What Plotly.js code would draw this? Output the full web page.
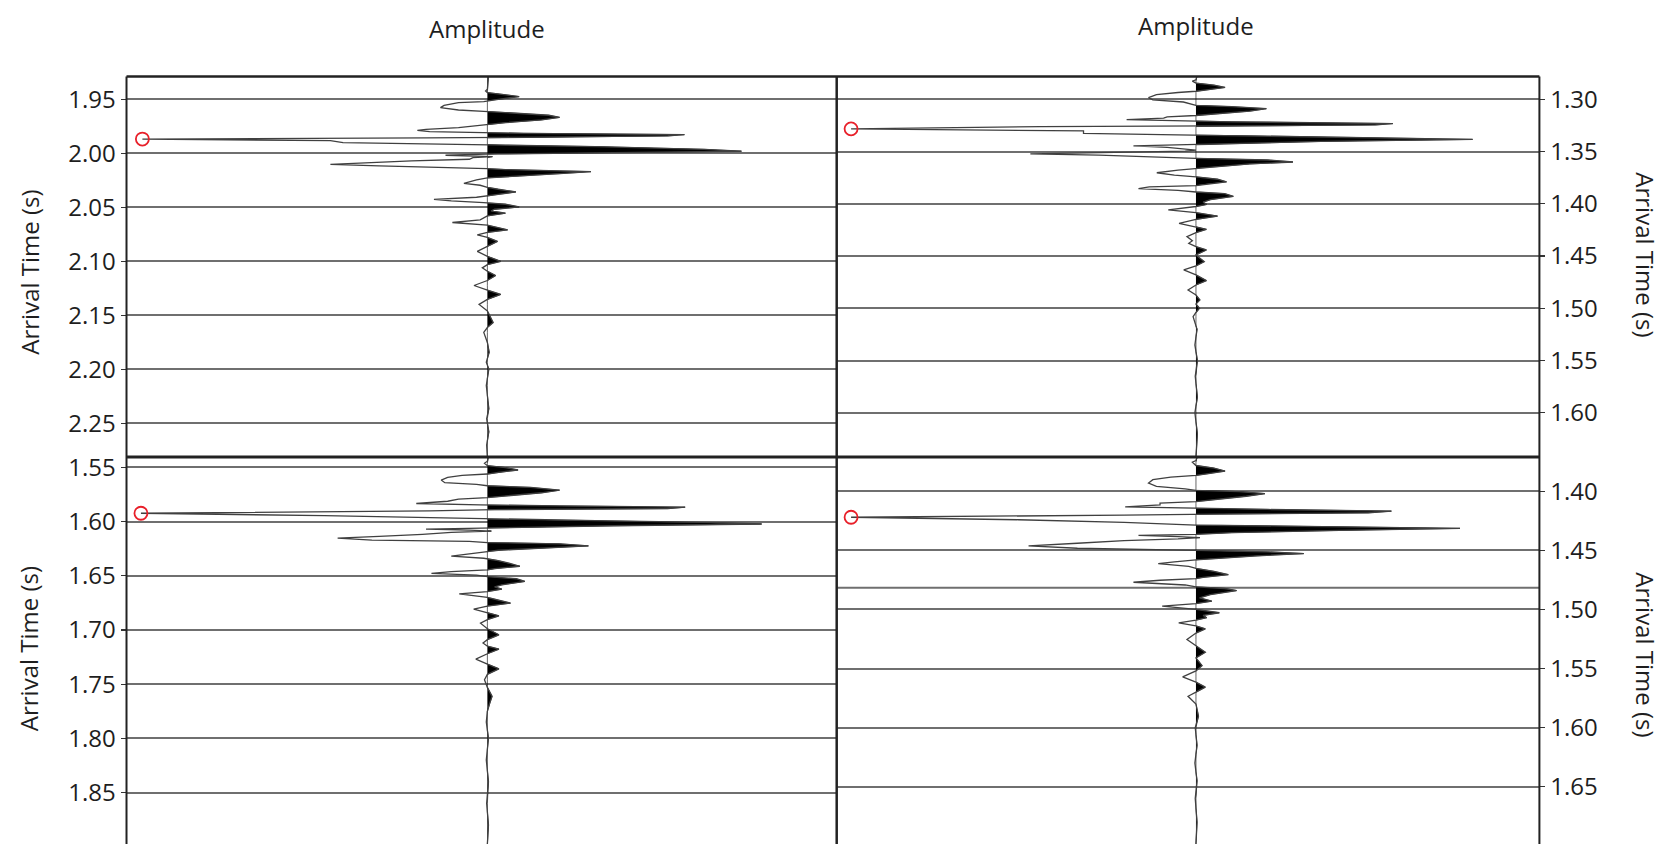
<!DOCTYPE html>
<html>
<head>
<meta charset="utf-8">
<script src="https://cdn.plot.ly/plotly-3.0.1.min.js"></script>
<style>
html,body{margin:0;padding:0;background:#fff;}
#chart{width:1667px;height:844px;}
</style>
</head>
<body>
<div id="chart"></div>
<script>
// ---------- Data (time in s, normalised amplitude) ----------
const tlTime = [1.9280,1.9407,1.9423,1.9438,1.9454,1.9475,1.9500,1.9512,1.9522,1.9531,1.9556,1.9577,1.9599,1.9611,1.9623,1.9648,1.9667,1.9691,1.9716,1.9735,1.9747,1.9762,1.9778,1.9787,1.9799,1.9809,1.9815,1.9827,1.9839,1.9852,1.9858,1.9868,1.9883,1.9901,1.9917,1.9925,1.9938,1.9963,1.9981,1.9994,2.0006,2.0018,2.0031,2.0040,2.0055,2.0071,2.0086,2.0102,2.0117,2.0133,2.0142,2.0151,2.0170,2.0188,2.0210,2.0228,2.0247,2.0265,2.0278,2.0296,2.0315,2.0333,2.0358,2.0380,2.0395,2.0407,2.0426,2.0441,2.0457,2.0472,2.0497,2.0518,2.0534,2.0555,2.0580,2.0617,2.0641,2.0666,2.0709,2.0733,2.0755,2.0779,2.0816,2.0862,2.0908,2.0954,2.1000,2.1031,2.1061,2.1092,2.1132,2.1178,2.1224,2.1267,2.1307,2.1353,2.1399,2.1460,2.1567,2.1613,2.1659,2.1751,2.1843,2.1935,2.1997,2.2150,2.2365,2.2457,2.2579,2.2702,2.2815];
const tlAmp  = [0.003,0.0,-0.005,0.0,0.04,0.088,0.03,0.0,-0.01,-0.08,-0.12,-0.13,-0.08,-0.01,0.05,0.17,0.20,0.15,0.05,0.0,-0.03,-0.08,-0.17,-0.194,-0.16,-0.03,0.10,0.546,0.50,0.05,-0.17,-0.956,-0.435,-0.40,-0.02,0.05,0.30,0.60,0.704,0.30,0.02,-0.116,0.014,-0.04,-0.05,-0.21,-0.31,-0.435,-0.30,-0.05,0.0,0.05,0.287,0.20,0.08,0.0,-0.03,-0.055,-0.065,-0.02,0.0,0.03,0.079,0.03,0.0,-0.03,-0.148,-0.10,-0.01,0.05,0.088,0.02,0.01,0.05,0.0,-0.02,-0.097,0.0,0.056,0.0,-0.028,0.0,0.028,0.0,-0.028,0.0,0.037,0.0,-0.014,0.0,0.023,0.0,-0.037,0.0,0.037,0.0,-0.023,0.0,0.016,0.0,-0.01,0.0,0.005,-0.003,0.004,-0.003,0.004,-0.002,0.004,-0.002,0.0];

const trTime = [1.2775,1.2813,1.2826,1.2845,1.2865,1.2887,1.2910,1.2923,1.2935,1.2955,1.2984,1.3006,1.3026,1.3048,1.3058,1.3071,1.3090,1.3113,1.3135,1.3155,1.3168,1.3181,1.3194,1.3206,1.3216,1.3232,1.3245,1.3255,1.3261,1.3283,1.3303,1.3326,1.3342,1.3352,1.3371,1.3384,1.3403,1.3426,1.3436,1.3445,1.3461,1.3474,1.3487,1.3497,1.3510,1.3523,1.3535,1.3552,1.3565,1.3581,1.3600,1.3619,1.3645,1.3661,1.3677,1.3703,1.3726,1.3742,1.3765,1.3790,1.3813,1.3826,1.3839,1.3855,1.3871,1.3887,1.3903,1.3929,1.3961,1.3984,1.4006,1.4026,1.4058,1.4085,1.4118,1.4150,1.4187,1.4219,1.4244,1.4276,1.4314,1.4353,1.4378,1.4410,1.4442,1.4490,1.4554,1.4595,1.4633,1.4681,1.4735,1.4777,1.4825,1.4873,1.4920,1.4959,1.5000,1.5040,1.5080,1.5200,1.5350,1.5500,1.5650,1.5850,1.6000,1.6200,1.6425];
const trAmp  = [0.003,0.0,-0.01,0.0,0.05,0.081,0.03,0.0,-0.05,-0.11,-0.132,-0.12,-0.035,-0.01,0.0,0.10,0.196,0.15,0.08,0.0,-0.08,-0.09,-0.193,-0.02,0.10,0.548,0.50,0.05,-0.433,-0.96,-0.313,-0.313,-0.02,0.20,0.60,0.77,0.35,0.10,0.0,-0.174,-0.08,-0.03,0.0,-0.03,-0.27,-0.461,-0.27,-0.12,0.0,0.20,0.27,0.15,0.05,0.0,-0.05,-0.109,-0.06,0.0,0.06,0.085,0.02,0.0,-0.13,-0.16,-0.05,0.0,0.08,0.104,0.04,0.02,0.03,0.0,-0.077,0.0,0.06,0.0,-0.047,0.0,0.029,0.0,-0.025,-0.01,-0.02,0.0,0.029,0.0,0.023,0.0,-0.034,0.0,0.029,0.0,-0.022,0.0,0.011,0.0,0.01,0.0,-0.008,0.003,-0.003,0.004,-0.002,0.004,-0.003,0.004,0.0];

const blTime = [1.5401,1.5444,1.5463,1.5485,1.5503,1.5525,1.5546,1.5562,1.5574,1.5593,1.5618,1.5642,1.5658,1.5670,1.5686,1.5711,1.5735,1.5760,1.5779,1.5794,1.5813,1.5834,1.5847,1.5856,1.5868,1.5881,1.5890,1.5902,1.5924,1.5946,1.5971,1.5980,1.5992,1.6011,1.6023,1.6039,1.6054,1.6060,1.6070,1.6079,1.6088,1.6101,1.6119,1.6138,1.6153,1.6172,1.6184,1.6194,1.6206,1.6225,1.6246,1.6265,1.6277,1.6299,1.6320,1.6339,1.6361,1.6385,1.6413,1.6435,1.6447,1.6463,1.6478,1.6494,1.6509,1.6528,1.6553,1.6584,1.6602,1.6624,1.6646,1.6668,1.6700,1.6753,1.6780,1.6809,1.6840,1.6870,1.6905,1.6938,1.6990,1.7045,1.7090,1.7120,1.7150,1.7177,1.7220,1.7269,1.7315,1.7359,1.7410,1.7460,1.7530,1.7613,1.7680,1.7750,1.7850,1.8000,1.8200,1.8400,1.8600,1.8800,1.8975];
const blAmp  = [0.003,0.0,-0.008,0.0,0.05,0.085,0.03,0.0,-0.07,-0.11,-0.128,-0.118,-0.03,0.0,0.12,0.20,0.15,0.07,0.0,-0.08,-0.11,-0.197,-0.02,0.20,0.548,0.50,0.02,-0.16,-0.96,-0.452,-0.05,0.0,0.30,0.65,0.76,0.35,0.05,0.0,-0.17,-0.05,0.011,-0.10,-0.18,-0.30,-0.415,-0.32,-0.05,0.0,0.20,0.28,0.15,0.03,0.0,-0.06,-0.10,-0.01,0.03,0.06,0.09,0.02,0.0,-0.10,-0.155,-0.03,0.0,0.08,0.104,0.04,0.02,0.04,0.0,-0.078,0.0,0.064,0.0,-0.038,0.0,0.032,0.0,-0.019,0.0,0.032,0.0,-0.012,0.0,0.032,0.0,-0.032,0.0,0.032,0.0,-0.008,0.0,0.013,0.006,0.0,-0.003,0.003,-0.003,0.003,-0.002,0.003,0.0];

const brTime = [1.3712,1.3740,1.3754,1.3782,1.3804,1.3829,1.3852,1.3866,1.3880,1.3902,1.3930,1.3958,1.3980,1.3992,1.4003,1.4020,1.4042,1.4067,1.4087,1.4101,1.4115,1.4132,1.4143,1.4154,1.4168,1.4182,1.4193,1.4202,1.4220,1.4241,1.4263,1.4277,1.4286,1.4297,1.4314,1.4331,1.4350,1.4364,1.4373,1.4384,1.4392,1.4403,1.4417,1.4440,1.4462,1.4482,1.4493,1.4501,1.4513,1.4527,1.4546,1.4566,1.4580,1.4597,1.4613,1.4636,1.4653,1.4678,1.4706,1.4728,1.4739,1.4753,1.4770,1.4793,1.4809,1.4823,1.4840,1.4874,1.4902,1.4930,1.4950,1.4972,1.5000,1.5028,1.5050,1.5070,1.5090,1.5113,1.5140,1.5164,1.5200,1.5254,1.5310,1.5362,1.5410,1.5475,1.5520,1.5571,1.5615,1.5658,1.5700,1.5735,1.5800,1.5904,1.6000,1.6150,1.6300,1.6450,1.6600,1.6800,1.6985];
const brAmp  = [0.003,0.0,-0.01,0.0,0.05,0.081,0.03,0.0,-0.07,-0.12,-0.132,-0.11,-0.03,0.0,0.12,0.192,0.14,0.06,0.0,-0.10,-0.10,-0.197,-0.02,0.20,0.544,0.48,0.05,-0.20,-0.96,-0.494,-0.20,-0.06,0.0,0.30,0.735,0.40,0.10,0.0,-0.16,-0.05,0.011,-0.05,-0.20,-0.33,-0.466,-0.33,-0.05,0.0,0.20,0.30,0.17,0.05,0.0,-0.06,-0.105,-0.02,0.0,0.05,0.09,0.02,0.0,-0.10,-0.174,-0.03,0.0,0.08,0.113,0.04,0.01,0.044,0.0,-0.094,0.0,0.065,0.02,0.03,0.0,-0.048,0.0,0.026,0.0,-0.025,0.0,0.026,0.0,0.017,0.0,-0.037,0.0,0.026,0.0,-0.022,0.0,0.007,-0.002,0.003,-0.003,0.003,-0.002,0.003,0.0];

// picked arrivals (red circles)
const pickTime = [1.9868, 1.3283, 1.5924, 1.4220];
const pickAmp  = [-0.956, -0.96, -0.96, -0.96];

// axis ticks
const tlTicks = [1.95,2.00,2.05,2.10,2.15,2.20,2.25];
const trTicks = [1.30,1.35,1.40,1.45,1.50,1.55,1.60];
const blTicks = [1.55,1.60,1.65,1.70,1.75,1.80,1.85];
const brTicks = [1.40,1.45,1.50,1.55,1.60,1.65];
const brExtraLine = 1.4816;

const xTitle = 'Amplitude';
const yTitle = 'Arrival Time (s)';

// ---------- helpers ----------
function positiveArea(t, a) {
  const tt = [], aa = [];
  for (let i = 0; i < t.length; i++) {
    if (i > 0) {
      const p = a[i-1], q = a[i];
      if ((p > 0 && q < 0) || (p < 0 && q > 0)) {
        const tc = t[i-1] + (0 - p) * (t[i] - t[i-1]) / (q - p);
        tt.push(tc); aa.push(0);
      }
    }
    tt.push(t[i]); aa.push(Math.max(a[i], 0));
  }
  return {t: tt, a: aa};
}

const panels = [
  {t: tlTime, a: tlAmp, xa: 'x',  ya: 'y'},
  {t: trTime, a: trAmp, xa: 'x2', ya: 'y2'},
  {t: blTime, a: blAmp, xa: 'x3', ya: 'y3'},
  {t: brTime, a: brAmp, xa: 'x4', ya: 'y4'}
];

const data = [];
panels.forEach((p, i) => {
  const pos = positiveArea(p.t, p.a);
  data.push({type: 'scatter', mode: 'lines', x: pos.a, y: pos.t, xaxis: p.xa, yaxis: p.ya,
             fill: 'tozerox', fillcolor: '#000000', line: {color: '#000000', width: 0.6},
             hoverinfo: 'skip'});
  data.push({type: 'scatter', mode: 'lines', x: p.a, y: p.t, xaxis: p.xa, yaxis: p.ya,
             line: {color: '#404040', width: 1.3}, hoverinfo: 'skip'});
  data.push({type: 'scatter', mode: 'markers', x: [pickAmp[i]], y: [pickTime[i]], xaxis: p.xa, yaxis: p.ya,
             marker: {symbol: 'circle-open', size: 13, color: '#e8202a', line: {width: 1.8, color: '#e8202a'}},
             hoverinfo: 'skip'});
});

const FONT = 'Open Sans, Noto Sans, sans-serif';
const L = 0.07589, M = 0.50192, R = 0.92346, T = 0.90936, H = 0.45853;

function xax(dom, rng, anchor) {
  return {domain: dom, range: rng, anchor: anchor, showgrid: false, zeroline: false,
          showticklabels: false, ticks: '', showline: false, fixedrange: true};
}
function yax(dom, rng, anchor, side, ticks) {
  return {domain: dom, range: rng, anchor: anchor, side: side,
          tickmode: 'array', tickvals: ticks, ticktext: ticks.map(v => v.toFixed(2)),
          ticks: 'outside', ticklen: 5, tickwidth: 1.2, tickcolor: '#333',
          showgrid: true, gridcolor: '#6f6f6f', gridwidth: 2, zeroline: false,
          showline: false, fixedrange: true,
          tickfont: {family: FONT, size: 24, color: '#1e1e1e'}};
}

const layout = {
  width: 1667, height: 844,
  margin: {l: 0, r: 0, t: 0, b: 0},
  paper_bgcolor: '#ffffff', plot_bgcolor: '#ffffff',
  showlegend: false, hovermode: false,
  xaxis:  xax([L, M], [-1, 0.968], 'y'),
  yaxis:  yax([H, T], [2.2812, 1.9289], 'x', 'left', tlTicks),
  xaxis2: xax([M, R], [-1, 0.956], 'y2'),
  yaxis2: yax([H, T], [1.6423, 1.2782], 'x2', 'right', trTicks),
  xaxis3: xax([L, M], [-1, 0.968], 'y3'),
  yaxis3: yax([0, H], [1.8975, 1.5405], 'x3', 'left', blTicks),
  xaxis4: xax([M, R], [-1, 0.956], 'y4'),
  yaxis4: yax([0, H], [1.6985, 1.3710], 'x4', 'right', brTicks),
  shapes: [
    {type: 'line', xref: 'x4', yref: 'y4', x0: -1, x1: 0.956, y0: brExtraLine, y1: brExtraLine,
     line: {color: '#6f6f6f', width: 2}, layer: 'below'},
    {type: 'line', xref: 'paper', yref: 'paper', x0: L, x1: L, y0: -0.01, y1: T, line: {color: '#222', width: 2}},
    {type: 'line', xref: 'paper', yref: 'paper', x0: R, x1: R, y0: -0.01, y1: T, line: {color: '#222', width: 2}},
    {type: 'line', xref: 'paper', yref: 'paper', x0: L, x1: R, y0: T, y1: T, line: {color: '#222', width: 2.5}},
    {type: 'line', xref: 'paper', yref: 'paper', x0: M, x1: M, y0: -0.01, y1: T, line: {color: '#222', width: 2.5}},
    {type: 'line', xref: 'paper', yref: 'paper', x0: L, x1: R, y0: H, y1: H, line: {color: '#222', width: 3}}
  ],
  annotations: [
    {text: xTitle, xref: 'paper', yref: 'paper', x: 0.2921, y: 0.966, showarrow: false,
     xanchor: 'center', yanchor: 'middle', font: {family: FONT, size: 24, color: '#1e1e1e'}},
    {text: xTitle, xref: 'paper', yref: 'paper', x: 0.7175, y: 0.970, showarrow: false,
     xanchor: 'center', yanchor: 'middle', font: {family: FONT, size: 24, color: '#1e1e1e'}},
    {text: yTitle, xref: 'paper', yref: 'paper', x: 0.0172, y: 0.6777, showarrow: false, textangle: -90,
     xanchor: 'center', yanchor: 'middle', font: {family: FONT, size: 24, color: '#1e1e1e'}},
    {text: yTitle, xref: 'paper', yref: 'paper', x: 0.0172, y: 0.2316, showarrow: false, textangle: -90,
     xanchor: 'center', yanchor: 'middle', font: {family: FONT, size: 24, color: '#1e1e1e'}},
    {text: yTitle, xref: 'paper', yref: 'paper', x: 0.9866, y: 0.6979, showarrow: false, textangle: 90,
     xanchor: 'center', yanchor: 'middle', font: {family: FONT, size: 24, color: '#1e1e1e'}},
    {text: yTitle, xref: 'paper', yref: 'paper', x: 0.9866, y: 0.2240, showarrow: false, textangle: 90,
     xanchor: 'center', yanchor: 'middle', font: {family: FONT, size: 24, color: '#1e1e1e'}}
  ]
};

Plotly.newPlot('chart', data, layout, {displayModeBar: false, staticPlot: true});
</script>
</body>
</html>
